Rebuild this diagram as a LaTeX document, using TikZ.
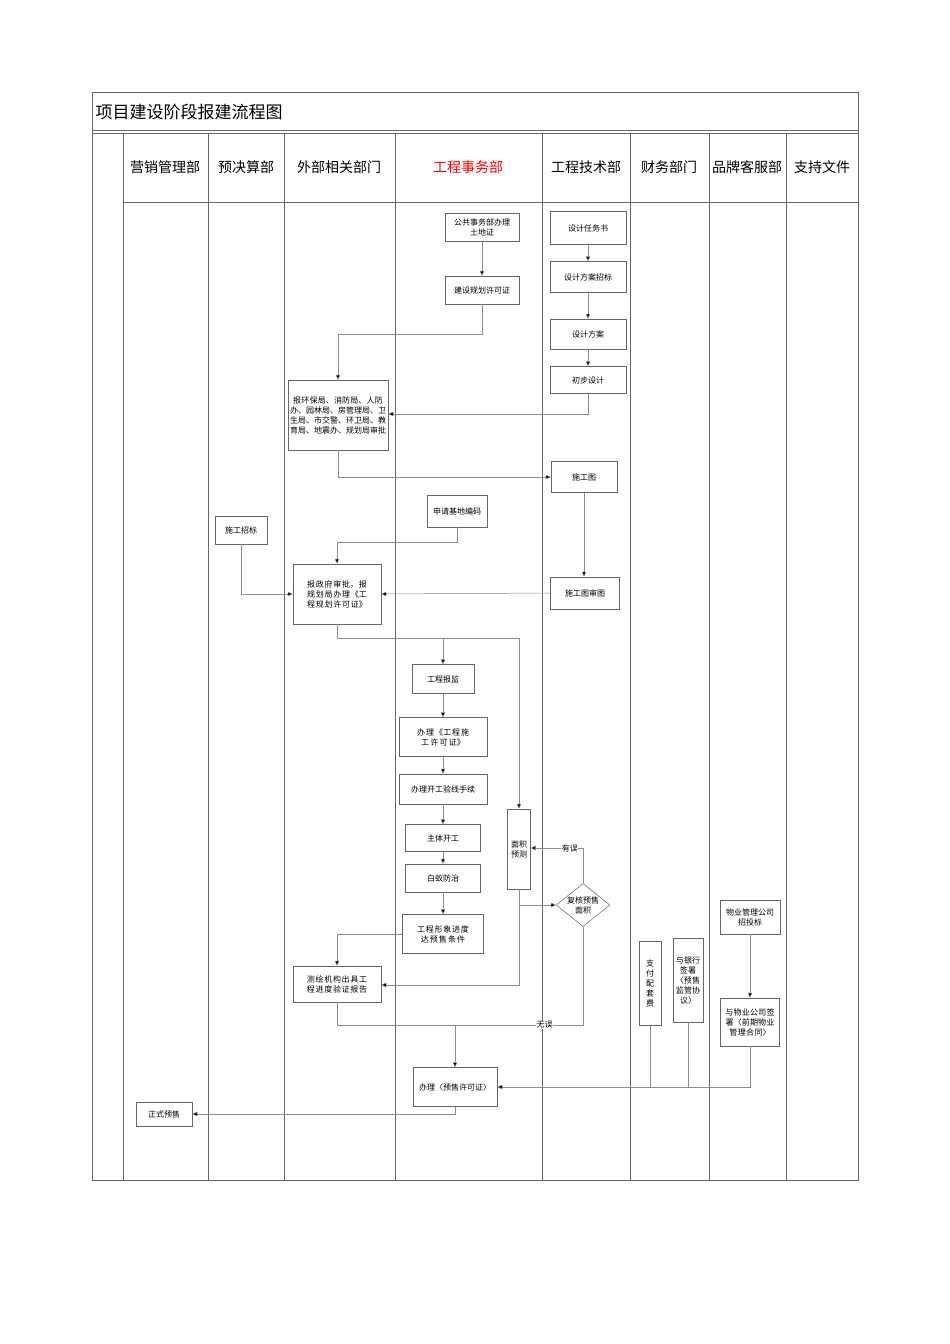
\documentclass[tikz,border=0pt]{standalone}
\usepackage{fontspec}
\setmainfont{Noto Sans CJK SC}
\XeTeXlinebreaklocale "zh"
\XeTeXlinebreakskip=0pt plus 1pt
\usetikzlibrary{shapes.geometric,arrows.meta}
\begin{document}
\begin{tikzpicture}[x=1pt,y=-1pt,
  box/.style={draw=black!60,line width=0.5pt,inner sep=1pt,align=center,font=\fontsize{8}{10}\selectfont},
  ln/.style={draw=black!45,line width=0.5pt},
  arr/.style={ln,-{Triangle[length=5pt,width=4.5pt,fill=black]}},
  hd/.style={font=\fontsize{14}{16}\selectfont},
  lbl/.style={fill=white,inner sep=0.5pt,font=\fontsize{8}{10}\selectfont}]
\useasboundingbox (0,0) rectangle (950,1344);
\fill[white] (0,0) rectangle (950,1344);
% frame
\draw[black!60,line width=0.6pt] (92,92) rectangle (858,1180);
\draw[black!60,line width=0.6pt] (92,130) -- (858,130);
\draw[black!60,line width=0.6pt] (92,133) -- (858,133);
\draw[black!60,line width=0.6pt] (123,202) -- (858,202);
\foreach \x in {123,208,284,395,542,630,709,786} \draw[black!60,line width=0.6pt] (\x,133) -- (\x,1180);
\node[anchor=west,font=\fontsize{17}{19}\selectfont] (title) at (92,112) {项目建设阶段报建流程图};
\node[hd] (h1) at (165,167) {营销管理部};
\node[hd] (h2) at (246,167) {预决算部};
\node[hd] (h3) at (339,167) {外部相关部门};
\node[hd,text=red] (h4) at (468,167) {工程事务部};
\node[hd] (h5) at (586,167) {工程技术部};
\node[hd] (h6) at (669,167) {财务部门};
\node[hd] (h7) at (747,167) {品牌客服部};
\node[hd] (h8) at (822,167) {支持文件};
% nodes
\node[box,minimum width=74pt,minimum height=28pt] (n1) at (482,227) {公共事务部办理\\土地证};
\node[box,minimum width=74pt,minimum height=28pt] (n2) at (482,290) {建设规划许可证};
\node[box,minimum width=76pt,minimum height=33pt] (t1) at (588,228) {设计任务书};
\node[box,minimum width=76pt,minimum height=31pt] (t2) at (588,277) {设计方案招标};
\node[box,minimum width=76pt,minimum height=30pt] (t3) at (588,334) {设计方案};
\node[box,minimum width=76pt,minimum height=27pt] (t4) at (588,380) {初步设计};
\node[box,minimum width=100pt,minimum height=70pt,text width=96pt] (e1) at (338,415) {报环保局、消防局、人防办、园林局、房管理局、卫生局、市交警、环卫局、教育局、地震办、规划局审批};
\node[box,minimum width=66pt,minimum height=31pt] (t5) at (584,477) {施工图};
\node[box,minimum width=60pt,minimum height=32pt] (n3) at (457,511) {申请基地编码};
\node[box,minimum width=52pt,minimum height=28pt] (m1) at (241,530) {施工招标};
\node[box,minimum width=88pt,minimum height=60pt,text width=84pt] (e2) at (337,594) {报政府审批，报规划局办理《工程规划许可证》};
\node[box,minimum width=69pt,minimum height=32pt] (t6) at (585,593) {施工图审图};
\node[box,minimum width=62pt,minimum height=29pt] (n4) at (443,679) {工程报监};
\node[box,minimum width=88pt,minimum height=39pt,text width=84pt] (n5) at (443,737) {办理《工程施工许可证》};
\node[box,minimum width=88pt,minimum height=30pt] (n6) at (443,789) {办理开工验线手续};
\node[box,minimum width=75pt,minimum height=27pt] (n7) at (443,838) {主体开工};
\node[box,minimum width=75pt,minimum height=28pt] (n8) at (443,878) {白蚁防治};
\node[box,minimum width=81pt,minimum height=39pt,text width=77pt] (n9) at (443,934) {工程形象进度达预售条件};
\node[box,minimum width=23pt,minimum height=80pt] (p1) at (519,849) {面积\\预测};
\node[box,diamond,aspect=1.25,inner sep=0pt,minimum width=50pt,minimum height=40pt] (d1) at (583,905) {复核预售\\面积};
\node[box,minimum width=88pt,minimum height=36pt,text width=84pt] (e3) at (337,984) {测绘机构出具工程进度验证报告};
\node[box,minimum width=84pt,minimum height=39pt] (n10) at (455,1087) {办理〈预售许可证〉};
\node[box,minimum width=56pt,minimum height=24pt] (s1) at (164,1114) {正式预售};
\node[box,minimum width=22pt,minimum height=84pt,text width=10pt] (f1) at (650,983) {支\\付\\配\\套\\费};
\node[box,minimum width=30pt,minimum height=84pt,text width=28pt] (f2) at (688,980) {与银行签署〈预售监管协议〉};
\node[box,minimum width=60pt,minimum height=34pt] (k1) at (750,917) {物业管理公司\\招投标};
\node[box,minimum width=59pt,minimum height=48pt,text width=56pt] (k2) at (750,1022) {与物业公司签署〈前期物业管理合同〉};
% connectors
\draw[arr] (n1) -- (n2);
\draw[arr] (n2.south) -- (n2.south |- 0,334) -| (e1.north);
\draw[arr] (t1) -- (t2);
\draw[arr] (t2) -- (t3);
\draw[arr] (t3) -- (t4);
\draw[arr] (t4.south) |- (e1.east |- 0,414);
\draw[arr] (e1.south) |- (t5.west);
\draw[arr] (t5.south) -- (t6.north -| t5.south);
\draw[arr] (n3.south) -- (n3.south |- 0,542) -| (e2.north);
\draw[arr] (m1.south) |- (e2.west);
\draw[arr] (t6.west) -- (e2.east);
\draw[ln] (e2.south) -- (e2.south |- 0,638) -- (519,638);
\coordinate (c1) at (443,638);
\draw[arr] (c1) -- (n4);
\draw[arr] (519,638) -- (p1.north);
\draw[arr] (n4) -- (n5);
\draw[arr] (n5) -- (n6);
\draw[arr] (n6) -- (n7);
\draw[arr] (n7) -- (n8);
\draw[arr] (n8) -- (n9);
\draw[arr] (n9.west) -| (e3.north);
\draw[arr] (p1.south) |- (d1.west);
\draw[arr] (p1.south) -- (p1.south |- 0,985) -- (e3.east |- 0,985);
\draw[arr] (d1.north) -- (d1.north |- 0,848) -- (p1.east |- 0,848) node[lbl,pos=0.25] (lb1) {有误};
\coordinate (c2) at (455,1025);
\draw[ln] (d1.south) -- (d1.south |- 0,1025) -- (c2) node[lbl,pos=0.3] (lb2) {无误};
\draw[ln] (e3.south) |- (c2);
\draw[arr] (c2) -- (n10.north);
\draw[ln] (f1.south) -- (f1.south |- 0,1087);
\draw[ln] (f2.south) -- (f2.south |- 0,1087);
\draw[arr] (k2.south) |- (n10.east);
\draw[arr] (k1) -- (k2);
\draw[arr] (n10.south) -- (n10.south |- 0,1114) -- (s1.east);
\end{tikzpicture}
\end{document}
